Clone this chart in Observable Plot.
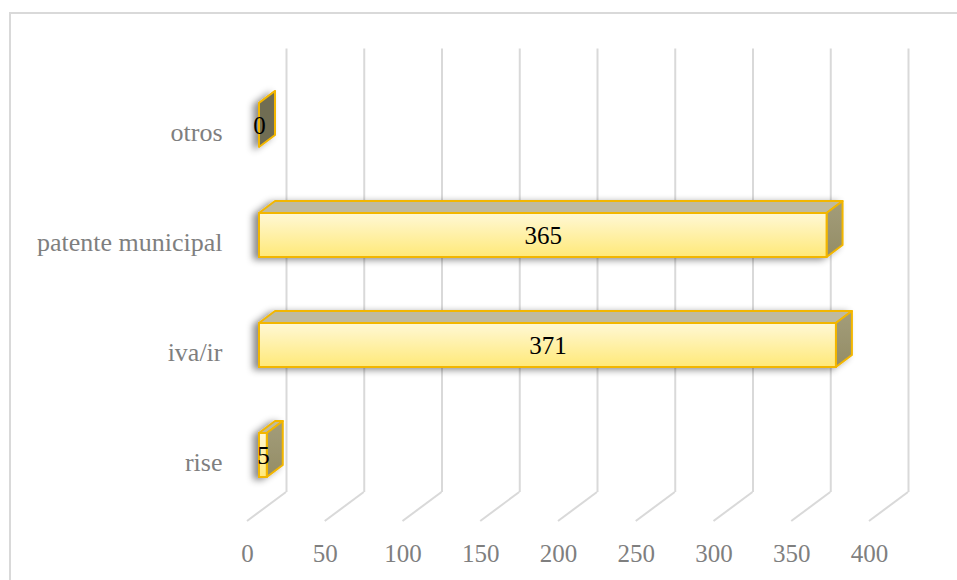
<!DOCTYPE html>
<html>
<head>
<meta charset="utf-8">
<script src="https://cdn.jsdelivr.net/npm/d3@7"></script>
<script src="https://cdn.jsdelivr.net/npm/@observablehq/plot@0.6"></script>
<style>
  html, body { margin: 0; padding: 0; background: #fff; overflow: hidden; }
  #wrap { position: relative; width: 957px; height: 580px; }
  #border { position: absolute; left: 9px; top: 12px; width: 2000px; height: 2000px; border: 2px solid #d9d9d9; box-sizing: border-box; }
  #chart { position: absolute; left: 0; top: 0; }
</style>
</head>
<body>
<div id="wrap"><div id="border"></div><div id="chart"></div></div>
<script>
const categories = ["otros", "patente municipal", "iva/ir", "rise"];
const values = [0, 365, 371, 5];
const xTicks = [0, 50, 100, 150, 200, 250, 300, 350, 400];

const data = categories.map((c, i) => ({cat: c, value: values[i]}));

// pseudo-3D offsets (pixels)
const BAR_DX = 16, BAR_DY = -12;
const WALL_DX = 27, WALL_DY = -20;
const FLOOR_DX = -12, FLOOR_DY = 9;
const GOLD = "#f2b600";

const chart = Plot.plot({
  width: 957,
  height: 580,
  marginLeft: 259,
  marginRight: 76,
  marginTop: 68.5,
  marginBottom: 68,
  style: {fontFamily: "'Liberation Serif', 'Times New Roman', serif", color: "#7f7f7f", background: "transparent"},
  x: {domain: [0, 400], ticks: xTicks, label: null},
  y: {domain: categories, paddingInner: 0.6, paddingOuter: 0.3, label: null},
  marks: [
    // back wall gridlines
    Plot.ruleX(xTicks, {x: d => d, dx: WALL_DX, dy: WALL_DY, stroke: "#d9d9d9", strokeWidth: 2}),
    // floor gridlines (back wall to front edge)
    Plot.ruleX(xTicks, {
      x: d => d,
      render(index, scales, vals, dims) {
        const bottom = dims.height - dims.marginBottom;
        const g = d3.create("svg:g");
        for (const i of index) {
          const x = scales.x(xTicks[i]);
          g.append("line")
            .attr("x1", x + WALL_DX).attr("y1", bottom + WALL_DY)
            .attr("x2", x + FLOOR_DX).attr("y2", bottom + FLOOR_DY)
            .attr("stroke", "#d9d9d9").attr("stroke-width", 2);
        }
        return g.node();
      }
    }),
    // 3D bars
    Plot.barX(data, {
      x: "value",
      y: "cat",
      stroke: GOLD,
      strokeWidth: 2,
      render(index, scales, vals, dims, context, next) {
        const g = next(index, scales, vals, dims, context);
        const sel = d3.select(g);
        const defs = sel.insert("defs", ":first-child");
        const grad = defs.append("linearGradient").attr("id", "frontGrad")
          .attr("x1", 0).attr("y1", 0).attr("x2", 0).attr("y2", 1);
        grad.append("stop").attr("offset", "0%").attr("stop-color", "#fff8d6");
        grad.append("stop").attr("offset", "100%").attr("stop-color", "#ffe978");
        const side = defs.append("linearGradient").attr("id", "sideGrad")
          .attr("x1", 0).attr("y1", 0).attr("x2", 0).attr("y2", 1);
        side.append("stop").attr("offset", "0%").attr("stop-color", "#a39d7a");
        side.append("stop").attr("offset", "100%").attr("stop-color", "#948d66");
        const f = defs.append("filter").attr("id", "barShadow")
          .attr("x", "-20%").attr("y", "-40%").attr("width", "140%").attr("height", "180%");
        f.append("feDropShadow").attr("dx", -5).attr("dy", 2).attr("stdDeviation", 3.5)
          .attr("flood-color", "#000").attr("flood-opacity", 0.45);
        sel.attr("filter", "url(#barShadow)");
        sel.selectAll("rect").each(function() {
          const r = d3.select(this);
          const x = +r.attr("x"), y = +r.attr("y"), w = +r.attr("width"), h = +r.attr("height");
          const parent = this.parentNode;
          const top = document.createElementNS("http://www.w3.org/2000/svg", "polygon");
          top.setAttribute("points", [[x, y], [x + BAR_DX, y + BAR_DY], [x + w + BAR_DX, y + BAR_DY], [x + w, y]].map(p => p.join(",")).join(" "));
          top.setAttribute("fill", "#bfba9f");
          top.setAttribute("stroke", GOLD);
          top.setAttribute("stroke-width", 2);
          top.setAttribute("stroke-linejoin", "round");
          const rt = document.createElementNS("http://www.w3.org/2000/svg", "polygon");
          rt.setAttribute("points", [[x + w, y], [x + w + BAR_DX, y + BAR_DY], [x + w + BAR_DX, y + h + BAR_DY], [x + w, y + h]].map(p => p.join(",")).join(" "));
          rt.setAttribute("fill", w < 1 ? "#6f6d52" : "url(#sideGrad)");
          rt.setAttribute("stroke", GOLD);
          rt.setAttribute("stroke-width", 2);
          rt.setAttribute("stroke-linejoin", "round");
          parent.insertBefore(top, this);
          parent.insertBefore(rt, this);
          r.attr("fill", "url(#frontGrad)");
        });
        return g;
      }
    }),
    // data labels
    Plot.text(data, {x: d => d.value / 2, y: "cat", text: d => String(d.value), fill: "#000", fontSize: 25}),
    Plot.axisY({tickSize: 0, tickPadding: 37, fontSize: 26, dy: 7, label: null}),
    Plot.axisX(xTicks, {tickSize: 0, tickPadding: 32, fontSize: 25, dx: FLOOR_DX, label: null})
  ]
});
document.getElementById("chart").appendChild(chart);
</script>
</body>
</html>
